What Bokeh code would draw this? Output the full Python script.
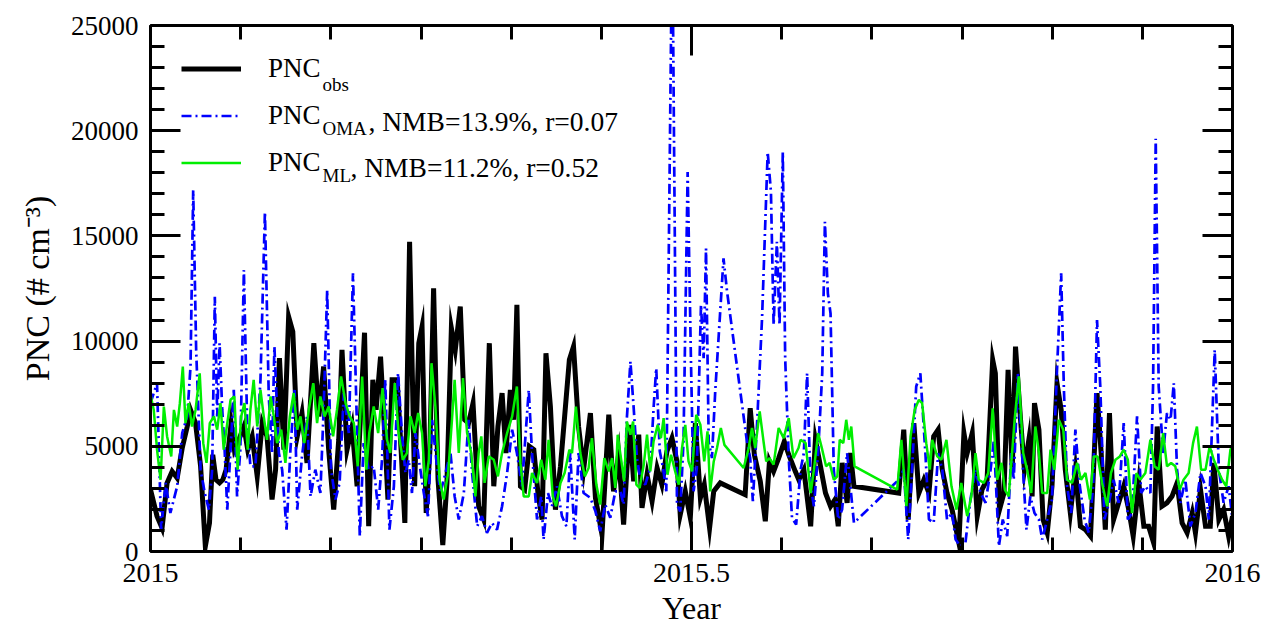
from bokeh.plotting import figure
from bokeh.models import (Range1d, FixedTicker, LinearAxis, Legend, LegendItem, Label,
                          CustomJSTickFormatter)
from bokeh.embed import file_html
from bokeh.resources import INLINE
from bokeh.core.properties import value

SERIF = "Liberation Serif"

# ---------------- data (day of year 2015, PNC in # cm^-3) ----------------
obs_day = [0, 2.2, 3.9, 5.6, 7.3, 9.0, 10.7, 12.4, 13.5, 15.2,
           16.9, 18.5, 19.9, 21.0, 22.1, 23.3, 24.4, 25.5, 27.2, 28.3,
           29.8, 31.5, 32.8, 34.3, 36.0, 37.7, 39.3, 41.0, 42.2, 43.5,
           45.0, 46.6, 48.0, 49.5, 51.1, 52.8, 55.1, 56.8, 58.4, 60.1,
           61.8, 63.5, 64.6, 66.3, 68.0, 69.7, 72.2, 73.6, 75.0, 76.1,
           77.6, 79.0, 80.1, 81.5, 83.2, 84.6, 85.8, 87.4, 89.1, 90.5,
           91.6, 93.0, 94.2, 95.5, 97.0, 98.6, 100.0, 101.5, 102.8, 104.5,
           106.0, 107.3, 108.8, 110.7, 112.4, 114.3, 115.8, 117.2, 118.6, 119.9,
           121.4, 122.5, 123.6, 124.8, 126.2, 127.8, 129.3, 130.7, 132.1, 133.4,
           134.9, 136.6, 138.3, 139.7, 141.3, 142.7, 144.4, 146.1, 148.4, 150.1,
           152.3, 154.6, 156.2, 157.9, 159.6, 161.6, 163.0, 164.7, 165.8, 167.5,
           169.2, 170.9, 172.5, 174.2, 175.9, 177.6, 178.7, 180.4, 182.1, 183.8,
           185.5, 186.8, 188.6, 190.0, 192.2, 200.6, 202.3, 203.7, 205.7, 207.4,
           208.8, 210.2, 211.9, 213.8, 215.3, 217.5, 218.7, 220.4, 222.7, 224.3,
           226.0, 227.7, 229.4, 230.9, 232.0, 233.3, 235.0, 236.1, 237.3, 252.4,
           254.1, 255.6, 257.5, 259.2, 260.9, 262.6, 264.2, 265.7, 267.1, 268.7,
           270.4, 272.7, 274.4, 275.5, 277.2, 278.9, 280.5, 282.2, 284.1, 285.0,
           286.4, 287.9, 289.3, 290.7, 291.8, 293.5, 294.8, 296.3, 297.4, 298.2,
           299.7, 301.1, 302.5, 304.1, 305.8, 307.2, 308.6, 310.3, 312.0, 313.7,
           315.4, 317.1, 319.3, 320.7, 322.1, 323.5, 324.9, 326.6, 328.3, 330.0,
           331.5, 333.4, 335.1, 336.7, 338.4, 339.6, 341.2, 342.9, 344.6, 346.3,
           348.0, 349.7, 351.4, 352.5, 354.2, 355.9, 357.5, 358.7, 360.4, 362.0,
           363.7, 365.0]
obs_pnc = [2940, 1680, 1120, 3260, 3810, 3490, 4920, 5940, 6730, 6100,
           4050, 250, 1360, 4600, 3410, 3260, 3410, 3890, 6100, 4840,
           5310, 5940, 4840, 5470, 3570, 6100, 5470, 2470, 3890, 9190,
           4840, 11160, 10450, 5470, 6580, 4210, 9900, 6420, 8790, 4840,
           1990, 5310, 9580, 4840, 5940, 3100, 10400, 1200, 8160, 6740,
           9260, 5630, 2470, 8160, 8160, 4680, 1360, 14720, 3100, 9900,
           10690, 1830, 4680, 12510, 3410, 300, 3260, 10610, 9580, 11640,
           6260, 6100, 7050, 2150, 1520, 9900, 3100, 5940, 7530, 4680,
           7680, 6260, 11720, 3100, 2940, 5000, 4840, 2780, 1520, 9420,
           6890, 1990, 4050, 6420, 9110, 9740, 5940, 3890, 6580, 2550,
           810, 6500, 2860, 4600, 1280, 6020, 3340, 5550, 2070, 3650,
           2390, 3970, 3180, 4760, 5390, 4280, 1750, 2860, 1600, 6100,
           2550, 3180, 1120, 2860, 3260, 2700, 6810, 4600, 3340, 1440,
           4280, 3810, 4440, 5230, 4600, 3810, 3410, 3890, 1200, 5310,
           4050, 2780, 2150, 2470, 1200, 4210, 2310, 4680, 3100, 2780,
           5790, 1520, 6100, 2780, 3410, 2780, 5470, 5790, 3890, 2780,
           1990, 410, 5630, 4680, 5630, 1680, 2940, 3410, 9110, 8470,
           1990, 2780, 8630, 3890, 9740, 6260, 3890, 5310, 2620, 7050,
           5790, 1520, 890, 3100, 8000, 6740, 3890, 1830, 3890, 1200,
           1040, 730, 7530, 4680, 1040, 6580, 1520, 2310, 3100, 1990,
           730, 3260, 1200, 1200, 410, 5940, 2150, 2310, 2620, 3260,
           1360, 890, 1830, 890, 2940, 1200, 1200, 4210, 1520, 1990,
           730, 1680]

oma_day = [0, 2.2, 3.6, 5.1, 6.7, 9.0, 10.7, 12.4, 13.5, 14.4,
           15.4, 16.9, 18.3, 19.7, 20.8, 21.7, 22.5, 23.3, 24.2, 25.0,
           25.9, 27.0, 28.1, 29.2, 30.3, 31.5, 32.6, 33.7, 35.4, 37.1,
           38.6, 39.9, 41.0, 41.8, 43.3, 44.4, 45.9, 47.2, 48.6, 49.5,
           51.1, 52.8, 54.0, 55.6, 57.3, 58.4, 59.6, 60.9, 62.4, 63.8,
           65.2, 66.9, 68.3, 69.7, 70.6, 71.9, 73.6, 75.3, 76.8, 78.1,
           79.2, 80.6, 82.1, 83.5, 84.9, 86.0, 87.1, 88.2, 89.4, 90.7,
           92.2, 93.6, 95.0, 96.4, 97.8, 99.5, 101.2, 102.6, 104.0, 105.7,
           107.3, 108.5, 110.2, 111.8, 113.5, 115.2, 116.9, 118.6, 120.3, 122.0,
           123.6, 125.3, 127.6, 128.7, 130.4, 131.8, 132.6, 134.1, 135.4, 137.1,
           138.8, 140.3, 141.6, 143.1, 144.4, 146.1, 148.4, 150.1, 151.7, 153.4,
           155.1, 156.8, 158.5, 159.6, 160.7, 161.9, 163.0, 164.1, 165.2, 166.9,
           168.6, 169.7, 170.6, 171.8, 172.9, 174.0, 176.0, 177.6, 178.7, 179.8,
           181.2, 182.3, 183.2, 184.3, 185.7, 186.6, 187.4, 188.3, 189.4, 190.5,
           193.3, 194.5, 201.2, 202.3, 203.2, 204.6, 206.3, 208.2, 209.3, 210.2,
           211.3, 212.2, 213.3, 214.1, 215.3, 216.4, 217.8, 219.3, 220.4, 221.5,
           222.7, 223.8, 225.2, 226.6, 227.5, 228.5, 229.4, 230.5, 232.0, 233.3,
           235.0, 236.1, 237.3, 252.4, 254.1, 255.6, 256.9, 258.3, 259.7, 261.4,
           262.6, 264.2, 265.7, 267.1, 268.7, 270.4, 271.6, 273.2, 274.9, 276.6,
           278.3, 280.0, 281.7, 283.4, 284.5, 286.2, 287.5, 289.0, 290.4, 291.2,
           292.6, 294.0, 295.5, 296.8, 298.2, 299.7, 300.8, 302.5, 304.1, 305.8,
           307.2, 308.1, 309.2, 310.6, 312.0, 313.5, 315.1, 316.5, 318.0, 319.3,
           320.4, 321.8, 323.3, 324.9, 326.6, 328.3, 329.7, 331.1, 332.8, 334.2,
           335.6, 337.3, 338.2, 339.1, 340.1, 341.6, 342.9, 344.1, 345.2, 346.3,
           347.4, 349.1, 350.8, 352.5, 354.2, 355.9, 357.0, 358.1, 359.0, 360.4,
           362.0, 363.7, 365.0]
oma_pnc = [7050, 8000, 1040, 3260, 1830, 3100, 5630, 6420, 8790, 17170,
           9580, 3890, 2780, 1990, 3890, 12110, 6420, 9900, 6740, 4840,
           1990, 4840, 7680, 2620, 4840, 13380, 6100, 4050, 4050, 8160,
           16140, 7370, 4680, 9740, 4680, 3890, 1040, 4840, 7680, 1990,
           4520, 6420, 2620, 3890, 2780, 6740, 12430, 3890, 2470, 3260,
           7530, 5630, 13220, 5630, 730, 5150, 3890, 4050, 1990, 4360,
           8160, 1040, 3100, 8470, 5470, 3730, 4360, 2780, 5630, 4200,
           2780, 1680, 6260, 4360, 2780, 3730, 4680, 2620, 1520, 2780,
           6260, 3730, 1200, 1680, 890, 1360, 1040, 2150, 3730, 5790,
           4680, 3100, 7680, 4680, 1520, 2620, 570, 2780, 2150, 3100,
           1680, 1200, 4680, 570, 4680, 2780, 2550, 1910, 960, 2230,
           1600, 2860, 2860, 2230, 6340, 9030, 6810, 4440, 3490, 3180,
           3970, 6810, 8710, 4760, 3970, 2860, 30000, 2230, 1910, 5230,
           18040, 9190, 2860, 3970, 11720, 9190, 14400, 5230, 4440, 7600,
           13930, 12350, 5230, 4440, 2390, 6020, 11080, 18990, 17090, 10770,
           14720, 10770, 18990, 9190, 4440, 1600, 1280, 3890, 4680, 8470,
           3100, 2150, 4680, 8470, 15670, 12270, 11320, 3890, 1520, 1990,
           4680, 3100, 1360, 3410, 3890, 570, 3890, 7840, 8470, 4680,
           1520, 1360, 4680, 3890, 1520, 1830, 570, 250, 410, 2470,
           3890, 2780, 2310, 3890, 5310, 250, 1520, 730, 4680, 3410,
           8470, 4680, 1040, 2620, 1830, 1520, 570, 1520, 2470, 8630,
           13220, 7840, 3100, 1830, 5790, 3100, 1520, 890, 3100, 11000,
           7840, 1520, 2310, 3410, 2310, 6100, 1520, 1830, 6420, 2780,
           3100, 2780, 7840, 19620, 7840, 4680, 6580, 6260, 8000, 3890,
           2310, 3410, 1200, 1830, 3730, 3100, 1520, 5940, 9580, 3890,
           2310, 3100, 1520]

ml_day = [0, 1.1, 2.2, 3.4, 4.5, 5.6, 7.0, 7.9, 9.0, 9.9,
          10.9, 11.8, 12.9, 14.0, 15.2, 16.6, 17.8, 18.9, 20.0, 21.4,
          22.5, 23.6, 24.7, 25.9, 27.0, 28.3, 29.4, 30.6, 31.7, 32.8,
          33.7, 34.8, 36.0, 37.1, 38.2, 39.3, 40.5, 41.6, 42.7, 44.1,
          45.5, 47.0, 48.3, 49.5, 50.6, 51.9, 53.4, 54.9, 56.2, 57.3,
          58.7, 60.1, 61.6, 62.9, 64.3, 65.8, 67.2, 68.6, 69.9, 71.4,
          72.8, 73.8, 75.3, 76.8, 78.3, 79.8, 80.9, 82.4, 83.7, 85.1,
          86.5, 87.7, 89.1, 90.3, 91.6, 92.7, 93.9, 94.8, 96.1, 97.5,
          98.9, 100.4, 101.7, 102.6, 104.0, 105.4, 106.8, 108.2, 109.6, 110.7,
          111.6, 112.7, 114.1, 115.8, 117.2, 118.6, 120.3, 122.0, 123.6, 124.8,
          125.9, 127.6, 128.7, 130.4, 131.8, 133.2, 134.3, 135.7, 136.8, 138.3,
          139.7, 141.3, 142.2, 143.5, 145.0, 146.5, 147.8, 148.9, 150.4, 151.7,
          153.1, 154.6, 155.7, 156.8, 157.6, 158.7, 159.8, 160.7, 161.9, 162.8,
          163.9, 165.0, 166.4, 167.5, 168.6, 169.7, 171.1, 172.2, 173.1, 174.4,
          175.6, 177.0, 178.2, 179.3, 180.4, 181.5, 182.7, 184.1, 185.5, 186.8,
          187.9, 188.8, 190.0, 191.1, 192.4, 193.6, 200.1, 201.8, 202.9, 204.0,
          205.5, 206.8, 207.7, 208.8, 210.2, 211.9, 213.6, 215.3, 216.9, 218.6,
          219.3, 221.0, 222.7, 223.8, 225.2, 226.6, 227.9, 229.1, 230.5, 231.7,
          232.5, 233.7, 234.7, 235.6, 236.4, 237.5, 251.9, 253.3, 255.0, 256.4,
          257.8, 259.2, 260.3, 261.7, 262.9, 263.7, 265.4, 266.8, 268.5, 270.2,
          271.9, 273.5, 275.5, 276.9, 278.3, 279.4, 281.1, 282.6, 284.1, 285.6,
          287.1, 288.2, 289.5, 291.5, 292.9, 294.4, 295.7, 297.1, 298.5, 299.7,
          300.8, 302.5, 303.6, 304.9, 306.4, 307.9, 309.2, 310.9, 312.6, 313.9,
          315.4, 316.9, 318.2, 319.5, 321.0, 322.7, 324.0, 325.5, 327.0, 328.3,
          329.7, 331.1, 332.6, 333.9, 335.6, 337.3, 338.7, 340.1, 341.6, 342.9,
          344.3, 345.7, 347.2, 348.5, 350.2, 351.7, 353.0, 354.4, 355.9, 357.3,
          358.7, 360.0, 361.5, 362.9, 364.3, 365.0]
ml_pnc = [7450, 6730, 4840, 3410, 6890, 5470, 4520, 6730, 5940, 7050,
          8790, 6100, 7050, 5940, 6730, 8470, 5150, 4210, 6100, 6420,
          5790, 7050, 4840, 6100, 7210, 7370, 3890, 6420, 7050, 4840,
          6730, 8160, 5940, 7680, 6420, 5310, 7370, 6420, 5150, 5790,
          4210, 6420, 7530, 5790, 6420, 5150, 6730, 8000, 6100, 7370,
          6420, 6890, 5470, 6730, 8320, 7050, 6420, 6100, 4050, 8320,
          3890, 5630, 6890, 5630, 7760, 5310, 4680, 8000, 5630, 4360,
          4680, 6420, 5630, 6580, 5630, 3100, 4360, 8950, 6890, 3410,
          2470, 3730, 6260, 8160, 4680, 8240, 5630, 4680, 2620, 4680,
          5470, 3260, 4520, 4360, 3570, 4680, 5630, 6420, 7840, 4200,
          2620, 2620, 3730, 3260, 4360, 3410, 5310, 2620, 2150, 3260,
          3730, 4840, 4680, 6890, 4680, 3570, 3970, 5390, 3180, 2230,
          4440, 3810, 4440, 3020, 5550, 4440, 3340, 6180, 5550, 6180,
          3180, 3020, 4130, 5550, 3810, 5230, 6020, 5390, 6340, 3650,
          4600, 3810, 3180, 4920, 6020, 4280, 3810, 6500, 6020, 4280,
          5710, 2860, 4280, 4920, 5870, 5070, 3970, 4920, 5870, 4920,
          6660, 5230, 4280, 4440, 4130, 5870, 5390, 6340, 4440, 4920,
          5310, 5150, 2780, 3890, 5630, 4840, 4050, 4210, 3410, 3570,
          5310, 5150, 6260, 5310, 5940, 4050, 2940, 5310, 2150, 5470,
          6740, 7210, 7050, 5150, 3890, 5310, 4520, 4360, 5310, 3100,
          1990, 3260, 1680, 2620, 4680, 3410, 3260, 3730, 6810, 3410,
          4210, 2940, 2620, 6260, 8320, 4680, 3890, 2780, 5940, 4680,
          2780, 2780, 4840, 3890, 6260, 5790, 3410, 3260, 4210, 3410,
          3730, 2470, 4520, 4520, 3260, 2150, 3730, 4360, 4520, 4840,
          4360, 1830, 3730, 3410, 3730, 5310, 4050, 3890, 5630, 4050,
          4210, 4050, 2940, 3410, 3730, 5150, 5940, 3890, 3890, 5000,
          4360, 3890, 3410, 3100, 4840, 5000]

x_major = [2015, 2015.5, 2016]
y_major = [0, 5000, 10000, 15000, 20000, 25000]

def to_year(days):
    return [2015 + d / 365.0 for d in days]

# ---------------- figure ----------------
p = figure(width=1264, height=628, output_backend="svg", toolbar_location=None,
           x_range=Range1d(2015, 2016), y_range=Range1d(0, 25000),
           x_axis_type=None, y_axis_type=None,
           min_border_left=150, min_border_right=32, min_border_top=25, min_border_bottom=76)
p.grid.visible = False
p.outline_line_color = None
p.background_fill_color = "white"
p.border_fill_color = "white"

x_ticker = FixedTicker(ticks=x_major, minor_ticks=[2015 + i / 12 for i in range(13)])
y_ticker = FixedTicker(ticks=y_major, minor_ticks=list(range(0, 25001, 1000)))

def style_axis(ax, show_labels, size="27px", standoff=10):
    ax.axis_line_color = "black"
    ax.axis_line_width = 3
    ax.major_tick_in = 30
    ax.major_tick_out = 0
    ax.minor_tick_in = 14
    ax.minor_tick_out = 0
    ax.major_tick_line_width = 3
    ax.minor_tick_line_width = 3
    ax.major_tick_line_color = "black"
    ax.minor_tick_line_color = "black"
    ax.major_label_text_font = SERIF
    if show_labels:
        ax.major_label_text_color = "black"
        ax.major_label_text_font_size = size
        ax.major_label_standoff = standoff
    else:
        ax.major_label_text_color = None
        ax.major_label_text_font_size = "0px"
        ax.major_label_standoff = 0
    ax.axis_label_text_font = SERIF
    ax.axis_label_text_font_style = "normal"
    ax.axis_label_text_color = "black"

xfmt = CustomJSTickFormatter(code="return String(Math.round(tick * 10) / 10);")
xb = LinearAxis(ticker=x_ticker, formatter=xfmt, axis_label="Year")
style_axis(xb, True, "28px", 12)
xb.axis_label_text_font_size = "32px"
xb.axis_label_standoff = 5
xt = LinearAxis(ticker=x_ticker, formatter=xfmt); style_axis(xt, False)
yl = LinearAxis(ticker=y_ticker, axis_label="PNC (# cm\u207b\u00b3)")
style_axis(yl, True, "27px", 12)
yl.axis_label_text_font_size = "34px"
yl.axis_label_standoff = 12
yr = LinearAxis(ticker=y_ticker); style_axis(yr, False)
p.add_layout(xb, "below")
p.add_layout(xt, "above")
p.add_layout(yl, "left")
p.add_layout(yr, "right")

r_obs = p.line(to_year(obs_day), obs_pnc, line_color="black", line_width=5, line_join="miter")
r_oma = p.line(to_year(oma_day), oma_pnc, line_color="#0000ff", line_width=2.7, line_dash="10 4 2 4")
r_ml = p.line(to_year(ml_day), ml_pnc, line_color="#00ee00", line_width=2.5)

legend = Legend(items=[LegendItem(label=value("PNC"), renderers=[r_obs]),
                       LegendItem(label=value("PNC"), renderers=[r_oma]),
                       LegendItem(label=value("PNC"), renderers=[r_ml])],
                location=(31, 365), padding=0, margin=0, spacing=0,
                glyph_width=60, glyph_height=47, label_height=47, label_standoff=27,
                label_text_font=SERIF, label_text_font_size="27px", label_text_color="black",
                border_line_alpha=0, background_fill_alpha=0)
p.add_layout(legend)

def lab(x, y, text, size):
    p.add_layout(Label(x=x, y=y, x_units="screen", y_units="screen", text=text,
                       text_font=SERIF, text_font_size=size, text_color="black",
                       text_align="left", text_baseline="alphabetic"))

# legend subscripts and statistics
lab(172, 467, "obs", "19px")
lab(172, 423, "OMA", "19px")
lab(218, 430, ", NMB=13.9%, r=0.07", "27.5px")
lab(172, 376, "ML", "19px")
lab(200, 384, ", NMB=11.2%, r=0.52", "27.5px")

open("out.html", "w").write(file_html(p, INLINE))
